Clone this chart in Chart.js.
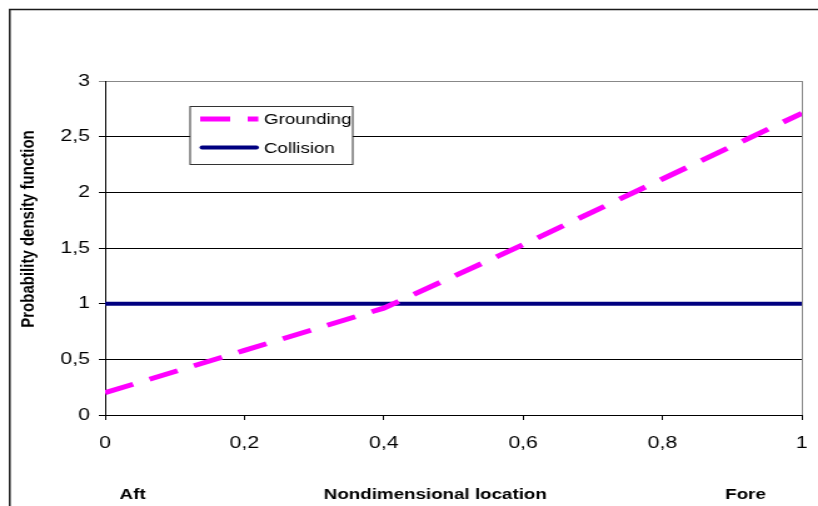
<!DOCTYPE html>
<html>
<head>
<meta charset="utf-8">
<script src="https://cdn.jsdelivr.net/npm/chart.js@4.4.1/dist/chart.umd.min.js"></script>
<style>
  html, body { margin: 0; padding: 0; background: #fff; overflow: hidden; }
  #wrap { width: 818px; height: 506px; overflow: hidden; }
  /* the original picture is stretched sideways, so the canvas is too */
  #pdf-chart { display: block; transform: scaleX(1.2508); transform-origin: 0 0; }
</style>
</head>
<body>
<div id="wrap"><canvas id="pdf-chart" width="654" height="506"></canvas></div>
<script>
const locations = [0, 0.2, 0.4, 0.6, 0.8, 1];
const grounding = [0.2, 0.58, 0.96, 1.53, 2.12, 2.71];
const collision = [1, 1, 1, 1, 1, 1];
const seriesNames = ['Grounding', 'Collision'];
const yTitle = 'Probability density function';
const bottomLabels = ['Aft', 'Nondimensional location', 'Fore'];

const FONT = '"Liberation Sans", Arial, sans-serif';
Chart.defaults.font.family = FONT;
Chart.defaults.color = '#000';

function toPoints(ys) {
    return locations.map((x, i) => ({ x: x, y: ys[i] }));
}

function comma(v) {
    return String(Math.round(v * 10) / 10).replace('.', ',');
}

const decor = {
    id: 'decor',
    beforeDraw(chart) {
        const c = chart.ctx;
        c.save();
        // outer frame (only top and left are inside the picture)
        c.strokeStyle = '#1a1a1a';
        c.lineWidth = 1.5;
        c.beginPath();
        c.moveTo(7.8, chart.height + 5);
        c.lineTo(7.8, 9.5);
        c.lineTo(chart.width + 5, 9.5);
        c.stroke();
        c.restore();
    },
    afterDraw(chart) {
        const c = chart.ctx;
        const a = chart.chartArea;
        c.save();

        // right edge of plot area
        c.strokeStyle = '#888';
        c.lineWidth = 1;
        c.beginPath();
        c.moveTo(a.right + 0.5, a.top);
        c.lineTo(a.right + 0.5, a.bottom);
        c.stroke();

        // axis texts
        c.fillStyle = '#000';
        c.font = 'bold 15px ' + FONT;
        c.textAlign = 'center';
        c.textBaseline = 'alphabetic';
        c.fillText(bottomLabels[0], 106, 499);
        c.fillText(bottomLabels[1], 348, 499);
        c.fillText(bottomLabels[2], 596, 499);

        c.save();
        c.translate(27, 229);
        c.rotate(-Math.PI / 2);
        c.fillText(yTitle, 0, 0);
        c.restore();

        // legend box
        c.fillStyle = '#fff';
        c.fillRect(152, 106.5, 130, 58);
        c.strokeStyle = '#333';
        c.lineWidth = 1;
        c.strokeRect(152, 106.5, 130, 58);

        const rows = [119, 147.5];
        chart.data.datasets.forEach((ds, i) => {
            const y = rows[i];
            c.save();
            c.strokeStyle = ds.borderColor;
            c.lineWidth = ds.borderWidth;
            c.setLineDash(ds.borderDash || []);
            c.lineCap = ds.borderDash ? 'butt' : 'round';
            c.beginPath();
            c.moveTo(ds.borderDash ? 160 : 161.5, y);
            c.lineTo(ds.borderDash ? 206.5 : 205, y);
            c.stroke();
            c.restore();
            c.fillStyle = '#000';
            c.font = '15px ' + FONT;
            c.textAlign = 'left';
            c.textBaseline = 'middle';
            c.fillText(ds.label, 211, y + 1);
        });

        c.restore();
    }
};

const ctx = document.getElementById('pdf-chart').getContext('2d');

const chart = new Chart(ctx, {
    type: 'line',
    data: {
        datasets: [{
            label: seriesNames[0],
            data: toPoints(grounding),
            borderColor: '#ff00ff',
            borderWidth: 5,
            borderDash: [24, 14],
            borderCapStyle: 'butt'
        }, {
            label: seriesNames[1],
            data: toPoints(collision),
            borderColor: '#000080',
            borderWidth: 4
        }]
    },
    options: {
        responsive: false,
        animation: false,
        devicePixelRatio: 1,
        layout: { padding: { top: 81, right: 13, left: 0, bottom: 0 } },
        elements: { point: { radius: 0 }, line: { tension: 0 } },
        plugins: {
            legend: { display: false },
            tooltip: { enabled: false }
        },
        scales: {
            x: {
                type: 'linear',
                min: 0,
                max: 1,
                ticks: {
                    stepSize: 0.2,
                    callback: comma,
                    font: { size: 17 },
                    padding: 13,
                    maxRotation: 0
                },
                grid: { drawOnChartArea: false, tickLength: 5, color: '#000' },
                border: { color: '#000', width: 1 },
                afterFit(s) {
                    s.height = 91;
                    s.paddingLeft = 0;
                    s.paddingRight = 0;
                }
            },
            y: {
                min: 0,
                max: 3,
                ticks: {
                    stepSize: 0.5,
                    callback: comma,
                    font: { size: 17 },
                    padding: 7
                },
                grid: {
                    tickLength: 5,
                    color: c => (c.tick && c.tick.value === 3) ? '#888' : '#000'
                },
                border: { color: '#000', width: 1 },
                afterFit(s) { s.width = 84; }
            }
        }
    },
    plugins: [decor]
});
</script>
</body>
</html>
